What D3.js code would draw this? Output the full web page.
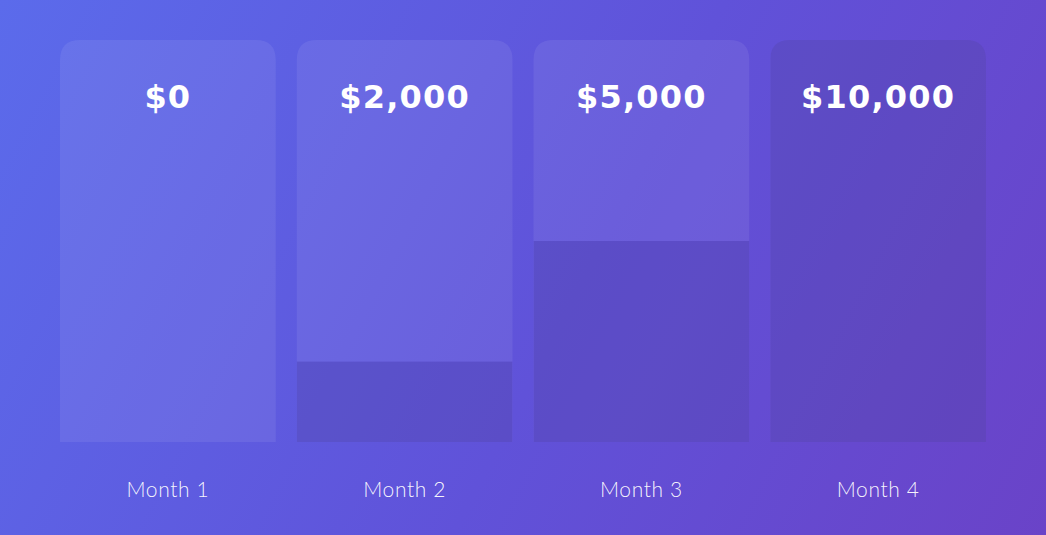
<!DOCTYPE html>
<html><head><meta charset="utf-8">
<script src="https://cdn.jsdelivr.net/npm/d3@7"></script>
<style>html,body{margin:0;padding:0;overflow:hidden;background:#5e5ade}</style>
</head><body>
<svg id="chart" width="1046" height="535"></svg>
<script>
const months = ["Month 1", "Month 2", "Month 3", "Month 4"];
const values = [0, 2000, 5000, 10000];
const maxValue = 10000;

const W = 1046, H = 535;
const svg = d3.select("#chart");
const defs = svg.append("defs");
const grad = defs.append("linearGradient").attr("id", "bg")
  .attr("gradientUnits", "userSpaceOnUse")
  .attr("x1", 0).attr("y1", 0).attr("x2", W).attr("y2", H);
grad.append("stop").attr("offset", "0%").attr("stop-color", "#5b6beb");
grad.append("stop").attr("offset", "55%").attr("stop-color", "#6052d9");
grad.append("stop").attr("offset", "100%").attr("stop-color", "#6a43c8");
svg.append("rect").attr("width", W).attr("height", H).attr("fill", "url(#bg)");

const x = d3.scaleBand().domain(months).range([60, 986]).paddingInner(0.0887).paddingOuter(0);
const y = d3.scaleLinear().domain([0, maxValue]).range([442, 40]);
const r = 20;

function topRounded(x0, y0, w, h, rad) {
  return `M${x0},${y0 + h}V${y0 + rad}Q${x0},${y0} ${x0 + rad},${y0}H${x0 + w - rad}Q${x0 + w},${y0} ${x0 + w},${y0 + rad}V${y0 + h}Z`;
}

months.forEach((m, i) => {
  const x0 = x(m), w = x.bandwidth();
  const top = y(maxValue), bottom = y(0);
  const clipId = "clip" + i;
  defs.append("clipPath").attr("id", clipId)
    .append("path").attr("d", topRounded(x0, top, w, bottom - top, r));
  const g = svg.append("g");
  g.append("path").attr("d", topRounded(x0, top, w, bottom - top, r))
    .attr("fill", "#ffffff").attr("fill-opacity", 0.075);
  g.append("rect").attr("clip-path", `url(#${clipId})`)
    .attr("x", x0).attr("width", w)
    .attr("y", y(values[i])).attr("height", bottom - y(values[i]))
    .attr("fill", "#2a1a8a").attr("fill-opacity", 0.24);
  g.append("text").attr("x", x0 + w / 2).attr("y", 108)
    .attr("text-anchor", "middle").attr("fill", "#ffffff")
    .attr("font-family", "'DejaVu Sans', sans-serif").attr("font-weight", 700)
    .attr("font-size", 32).attr("letter-spacing", 1.2)
    .text("$" + d3.format(",")(values[i]));
  g.append("text").attr("x", x0 + w / 2).attr("y", 497)
    .attr("text-anchor", "middle").attr("fill", "#ffffff").attr("fill-opacity", 0.95)
    .attr("font-family", "Lato, sans-serif").attr("font-weight", 300)
    .attr("font-size", 21).attr("letter-spacing", 0.6)
    .text(m);
});
</script>
</body></html>
